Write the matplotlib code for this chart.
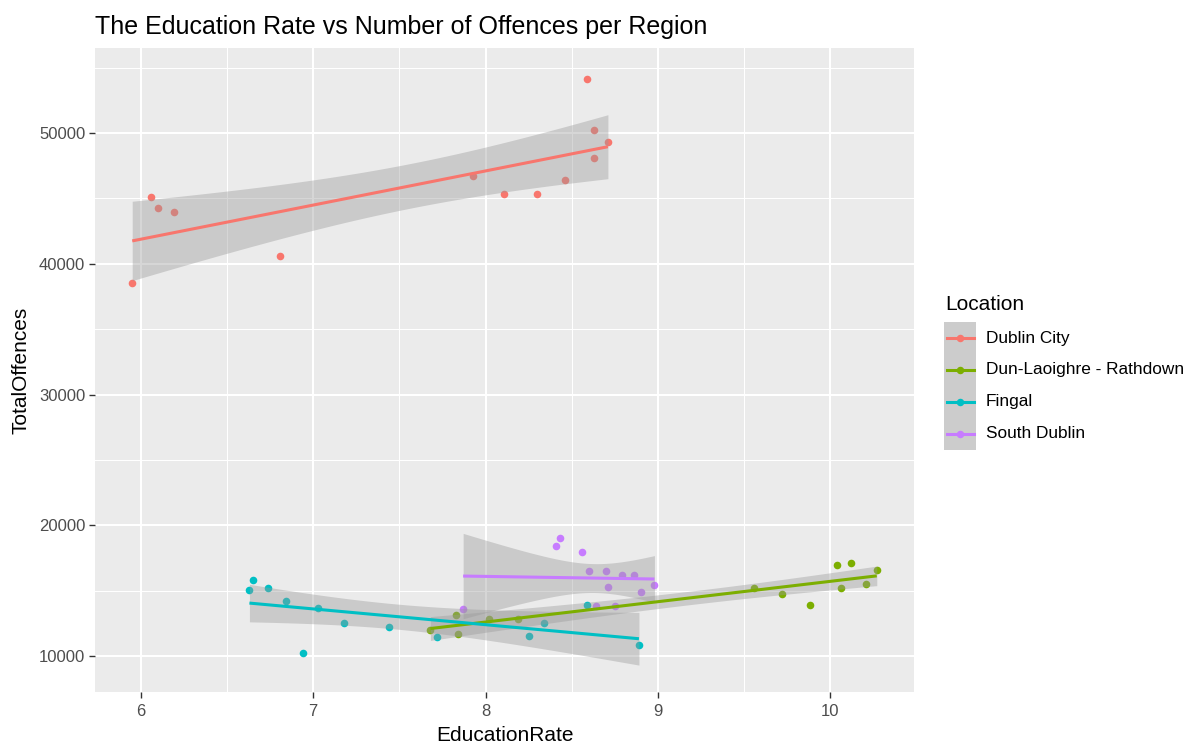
import numpy as np
import matplotlib
matplotlib.use("Agg")
import matplotlib.pyplot as plt
from matplotlib.lines import Line2D
from matplotlib.patches import Rectangle

plt.rcParams['font.family'] = ['Liberation Sans', 'DejaVu Sans']

locations = ["Dublin City", "Dun-Laoighre - Rathdown", "Fingal", "South Dublin"]
colors = ["#F8766D", "#7CAE00", "#00BFC4", "#C77CFF"]

dublin_city_edu = [5.95, 6.06, 6.10, 6.19, 6.81, 7.93, 8.11, 8.30, 8.46, 8.59, 8.63, 8.63, 8.71]
dublin_city_off = [38500, 45100, 44260, 43930, 40630, 46700, 45300, 45300, 46370, 54140, 50200, 48070, 49340]

dun_laoighre_edu = [7.68, 7.83, 7.84, 8.02, 8.19, 9.56, 9.72, 9.88, 10.04, 10.12, 10.06, 10.21, 10.27]
dun_laoighre_off = [12000, 13170, 11680, 12840, 12840, 15200, 14770, 13930, 17000, 17110, 15180, 15530, 16550]

fingal_edu = [6.63, 6.65, 6.74, 6.84, 7.03, 6.94, 7.18, 7.44, 7.72, 8.25, 8.34, 8.59, 8.89]
fingal_off = [15080, 15840, 15200, 14240, 13710, 10200, 12540, 12210, 11470, 11570, 12540, 13910, 10810]

south_dublin_edu = [7.87, 8.41, 8.43, 8.56, 8.60, 8.70, 8.71, 8.79, 8.86, 8.90, 8.98, 8.64, 8.75]
south_dublin_off = [13600, 18380, 19010, 17940, 16470, 16470, 15300, 16170, 16170, 14870, 15410, 13860, 13860]

series_x = [dublin_city_edu, dun_laoighre_edu, fingal_edu, south_dublin_edu]
series_y = [dublin_city_off, dun_laoighre_off, fingal_off, south_dublin_off]

x_ticks = [6, 7, 8, 9, 10]
y_ticks = [10000, 20000, 30000, 40000, 50000]

T975_DF11 = 2.200985  # Student t 0.975 quantile, 11 df


def lm_fit(x, y, n=80):
    x = np.asarray(x, float)
    y = np.asarray(y, float)
    m = len(x)
    b, a = np.polyfit(x, y, 1)
    resid = y - (a + b * x)
    s = np.sqrt(np.sum(resid ** 2) / (m - 2))
    xg = np.linspace(x.min(), x.max(), n)
    yg = a + b * xg
    se = s * np.sqrt(1.0 / m + (xg - x.mean()) ** 2 / np.sum((x - x.mean()) ** 2))
    return xg, yg, yg - T975_DF11 * se, yg + T975_DF11 * se


W, H = 1192, 745
fig = plt.figure(figsize=(W / 100, H / 100), dpi=100)
ax = fig.add_axes([95 / W, 1 - 692 / H, (914 - 95) / W, (692 - 48) / H])
ax.set_facecolor("#EBEBEB")
for s in ax.spines.values():
    s.set_visible(False)

# points first
for xs, ys, c in zip(series_x, series_y, colors):
    ax.scatter(xs, ys, s=30, color=c, linewidths=0, zorder=2)

# smooths
for xs, ys, c in zip(series_x, series_y, colors):
    xg, yg, lo, hi = lm_fit(xs, ys)
    ax.fill_between(xg, lo, hi, color="#999999", alpha=0.4, linewidth=0, zorder=3)
    ax.plot(xg, yg, color=c, lw=2.2, zorder=4, solid_capstyle="butt")

allx = np.concatenate([np.asarray(v, float) for v in series_x])
xmin, xmax = allx.min(), allx.max()
pad = 0.05 * (xmax - xmin)
ax.set_xlim(xmin - pad, xmax + pad)
ax.set_ylim(7250, 56500)

ax.set_xticks(x_ticks)
ax.set_xticks([6.5, 7.5, 8.5, 9.5], minor=True)
ax.set_yticks(y_ticks)
ax.set_yticks([15000, 25000, 35000, 45000, 55000], minor=True)
ax.set_xticklabels([str(v) for v in x_ticks])
ax.set_yticklabels([str(v) for v in y_ticks])
ax.grid(which="major", color="white", lw=1.45, zorder=0)
ax.grid(which="minor", color="white", lw=0.75, zorder=0)
ax.set_axisbelow(True)
ax.tick_params(which="major", length=4, width=1, color="#333333",
               labelsize=12, labelcolor="#4D4D4D")
ax.tick_params(axis="x", which="major", pad=5)
ax.tick_params(axis="y", which="major", pad=3)
ax.tick_params(which="minor", length=0)

ax.set_xlabel("EducationRate", fontsize=15, labelpad=5)
ax.set_ylabel("TotalOffences", fontsize=15, labelpad=6)
fig.text(95 / W, 1 - 27 / H, "The Education Rate vs Number of Offences per Region",
         fontsize=18, ha="left", va="center")


# legend drawn in figure pixel coordinates (from top-left)
def fx(px):
    return px / W


def fy(py):
    return 1 - py / H


key_left, key_right, key_top, key_h = 944, 976, 322, 32
fig.text(fx(945), fy(304), "Location", fontsize=15, ha="left", va="center")
fig.add_artist(Rectangle((fx(key_left), fy(key_top + key_h * len(locations))),
                         fx(key_right - key_left), (key_h * len(locations)) / H,
                         transform=fig.transFigure, facecolor="#CCCCCC",
                         edgecolor="none"))
for i, (lab, c) in enumerate(zip(locations, colors)):
    cy = key_top + key_h * (i + 0.5)
    fig.add_artist(Line2D([fx(946.5), fx(973.5)], [fy(cy), fy(cy)],
                          transform=fig.transFigure, color=c, lw=2.2))
    fig.add_artist(Line2D([fx(960)], [fy(cy)], transform=fig.transFigure,
                          color=c, marker="o", markersize=5.4, markeredgewidth=0,
                          linestyle="none"))
    fig.text(fx(986), fy(cy), lab, fontsize=12.4, ha="left", va="center")

fig.savefig("out.png", dpi=100)
